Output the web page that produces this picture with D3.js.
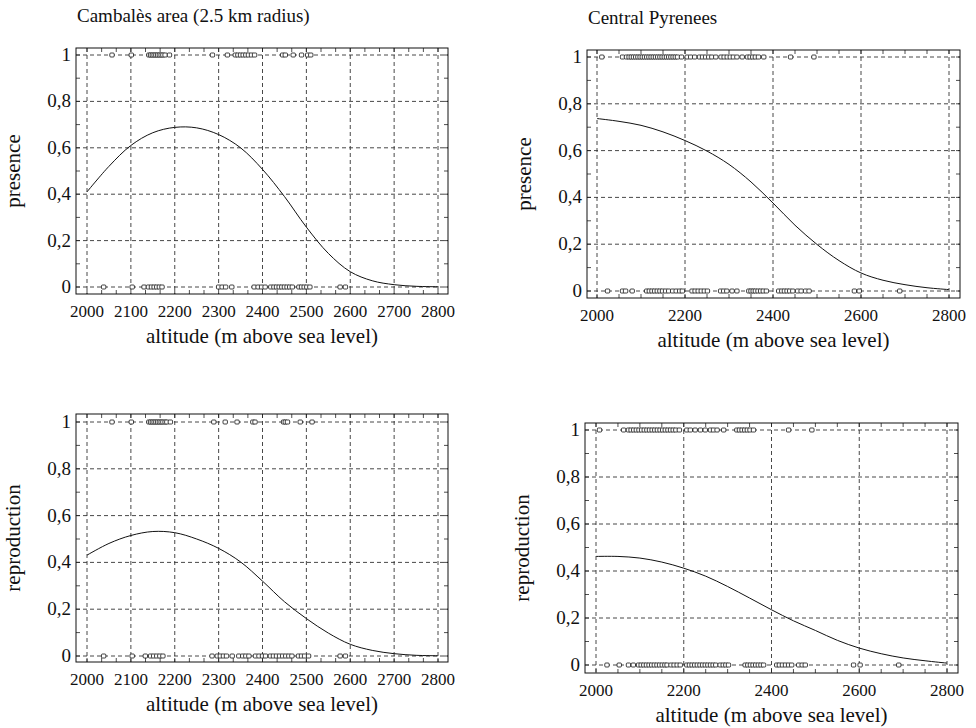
<!DOCTYPE html>
<html>
<head>
<meta charset="utf-8">
<script src="https://cdn.jsdelivr.net/npm/d3@7"></script>
<style>
	body { margin: 0; background: #fff; }
</style>
</head>
<body>
<div id="chart"></div>
<script>
/*	Data -----------------------------------------------------------------------*/
var curveAltitude = [2000, 2050, 2100, 2150, 2200, 2250, 2300, 2350, 2400, 2450, 2500, 2550, 2600, 2650, 2700, 2750, 2800];
var presenceCambales = [0.41, 0.52, 0.61, 0.665, 0.688, 0.686, 0.657, 0.600, 0.507, 0.390, 0.258, 0.145, 0.066, 0.027, 0.010, 0.003, 0.001];
var presencePyrenees = [0.737, 0.725, 0.708, 0.680, 0.643, 0.598, 0.541, 0.466, 0.376, 0.281, 0.199, 0.130, 0.077, 0.046, 0.027, 0.014, 0.006];
var reproCambales = [0.431, 0.481, 0.515, 0.532, 0.527, 0.500, 0.460, 0.402, 0.320, 0.232, 0.160, 0.098, 0.050, 0.024, 0.010, 0.003, 0.001];
var reproPyrenees = [0.462, 0.462, 0.455, 0.438, 0.412, 0.378, 0.334, 0.285, 0.235, 0.188, 0.147, 0.105, 0.072, 0.048, 0.030, 0.018, 0.008];

/*	Observed sites (altitude) where the value is 1 or 0 -----------------------*/
var presCambalesOne = [2057, 2101, 2141, 2145, 2149, 2153, 2157, 2161, 2165, 2169, 2173, 2178, 2188, 2286, 2320, 2338, 2344, 2350, 2356, 2362, 2368, 2375, 2382, 2446, 2452, 2470, 2489, 2503, 2510];
var presCambalesZero = [2038, 2103, 2130, 2140, 2147, 2153, 2159, 2165, 2171, 2300, 2308, 2316, 2330, 2381, 2390, 2398, 2406, 2419, 2426, 2432, 2438, 2444, 2450, 2456, 2462, 2468, 2483, 2489, 2495, 2501, 2508, 2577, 2589];
var presPyreneesOne = [2011, 2058, 2067, 2073, 2078, 2083, 2088, 2093, 2098, 2103, 2108, 2113, 2118, 2123, 2128, 2133, 2138, 2143, 2148, 2153, 2158, 2163, 2168, 2173, 2178, 2183, 2192, 2205, 2213, 2222, 2233, 2240, 2247, 2254, 2261, 2270, 2282, 2289, 2296, 2303, 2310, 2318, 2330, 2342, 2348, 2354, 2360, 2367, 2379, 2440, 2493];
var presPyreneesZero = [2024, 2058, 2065, 2080, 2113, 2119, 2125, 2131, 2137, 2143, 2149, 2156, 2163, 2172, 2180, 2188, 2194, 2216, 2223, 2230, 2237, 2244, 2251, 2281, 2288, 2295, 2307, 2318, 2345, 2350, 2355, 2360, 2366, 2372, 2378, 2385, 2413, 2420, 2426, 2432, 2438, 2445, 2456, 2464, 2474, 2482, 2585, 2596, 2688];
var reproCambalesOne = [2057, 2101, 2141, 2145, 2149, 2153, 2157, 2161, 2165, 2169, 2173, 2178, 2182, 2190, 2289, 2315, 2342, 2378, 2383, 2448, 2452, 2457, 2486, 2513];
var reproCambalesZero = [2038, 2103, 2133, 2145, 2152, 2159, 2166, 2173, 2285, 2297, 2304, 2311, 2318, 2331, 2346, 2355, 2362, 2369, 2384, 2392, 2400, 2407, 2418, 2425, 2432, 2439, 2446, 2453, 2460, 2467, 2482, 2489, 2496, 2505, 2577, 2589];
var reproPyreneesOne = [2008, 2063, 2074, 2080, 2086, 2092, 2098, 2104, 2110, 2116, 2122, 2128, 2134, 2140, 2146, 2152, 2158, 2164, 2170, 2176, 2182, 2190, 2207, 2215, 2226, 2238, 2249, 2261, 2268, 2276, 2291, 2321, 2327, 2333, 2339, 2345, 2351, 2359, 2439, 2492];
var reproPyreneesZero = [2025, 2053, 2074, 2085, 2097, 2103, 2109, 2115, 2121, 2127, 2133, 2139, 2145, 2151, 2157, 2162, 2171, 2178, 2185, 2192, 2207, 2213, 2219, 2225, 2231, 2237, 2243, 2249, 2255, 2261, 2267, 2273, 2283, 2290, 2296, 2302, 2340, 2346, 2352, 2358, 2364, 2370, 2376, 2382, 2412, 2418, 2425, 2432, 2439, 2446, 2462, 2470, 2477, 2587, 2602, 2690];

/*	Ticks and labels ----------------------------------------------------------*/
var yTicks = [0, 0.2, 0.4, 0.6, 0.8, 1];
var yTickLabels = ["0", "0,2", "0,4", "0,6", "0,8", "1"];
var xTicksCambales = [2000, 2100, 2200, 2300, 2400, 2500, 2600, 2700, 2800];
var xTicksPyrenees = [2000, 2200, 2400, 2600, 2800];
var panelTitles = ["Cambalès area (2.5 km radius)", "Central Pyrenees"];
var yTitles = ["presence", "reproduction"];
var xTitle = "altitude (m above sea level)";

/*	Panel layout (pixels) ----------------------------------------------------*/
var panels = [
	{ x0: 87,  x1: 438, yZero: 287, yOne: 55,  frame: [76, 48, 448, 294],  curve: presenceCambales, one: presCambalesOne, zero: presCambalesZero, xTicks: xTicksCambales, minor: 100 / 3, yTitle: yTitles[0], title: panelTitles[0], titleY: 22 },
	{ x0: 597, x1: 949, yZero: 291, yOne: 57,  frame: [587, 50, 960, 298], curve: presencePyrenees, one: presPyreneesOne, zero: presPyreneesZero, xTicks: xTicksPyrenees, minor: 50, yTitle: yTitles[0], title: panelTitles[1], titleY: 24 },
	{ x0: 87,  x1: 438, yZero: 656, yOne: 422, frame: [76, 414, 448, 662], curve: reproCambales, one: reproCambalesOne, zero: reproCambalesZero, xTicks: xTicksCambales, minor: 100 / 3, yTitle: yTitles[1] },
	{ x0: 596, x1: 947, yZero: 665, yOne: 430, frame: [585, 423, 958, 673], curve: reproPyrenees, one: reproPyreneesOne, zero: reproPyreneesZero, xTicks: xTicksPyrenees, minor: 50, yTitle: yTitles[1] }
];

var serif = "'Liberation Serif'";

var svg = d3.select("#chart").append("svg")
	.attr("width", 976)
	.attr("height", 728);

/*	Draw one panel ------------------------------------------------------------*/
var drawPanel = function(p) {
	var xScale = d3.scaleLinear().domain([2000, 2800]).range([p.x0, p.x1]);
	var yScale = d3.scaleLinear().domain([0, 1]).range([p.yZero, p.yOne]);
	var fx0 = p.frame[0], fy0 = p.frame[1], fx1 = p.frame[2], fy1 = p.frame[3];
	var g = svg.append("g");

	/*	Grid lines -------------------------------------------------------------*/
	g.selectAll(".vgrid").data(p.xTicks).enter().append("line")
		.attr("x1", function(d) { return xScale(d); })
		.attr("x2", function(d) { return xScale(d); })
		.attr("y1", fy0).attr("y2", fy1)
		.attr("stroke", "#333").attr("stroke-width", 0.9)
		.attr("stroke-dasharray", "4,3");
	g.selectAll(".hgrid").data(yTicks).enter().append("line")
		.attr("x1", fx0).attr("x2", fx1)
		.attr("y1", function(d) { return yScale(d); })
		.attr("y2", function(d) { return yScale(d); })
		.attr("stroke", "#333").attr("stroke-width", 0.9)
		.attr("stroke-dasharray", "4,3");

	/*	Minor ticks on the frame -------------------------------------------------*/
	var yMinor = d3.range(0, 1.0001, 0.1);
	var xMinor = d3.range(2000, 2800.5, p.minor);
	yMinor.forEach(function(v) {
		g.append("line").attr("x1", fx0).attr("x2", fx0 + 4)
			.attr("y1", yScale(v)).attr("y2", yScale(v))
			.attr("stroke", "#222").attr("stroke-width", 0.8);
		g.append("line").attr("x1", fx1).attr("x2", fx1 - 4)
			.attr("y1", yScale(v)).attr("y2", yScale(v))
			.attr("stroke", "#222").attr("stroke-width", 0.8);
	});
	xMinor.forEach(function(v) {
		g.append("line").attr("x1", xScale(v)).attr("x2", xScale(v))
			.attr("y1", fy1).attr("y2", fy1 - 4)
			.attr("stroke", "#222").attr("stroke-width", 0.8);
		g.append("line").attr("x1", xScale(v)).attr("x2", xScale(v))
			.attr("y1", fy0).attr("y2", fy0 + 4)
			.attr("stroke", "#222").attr("stroke-width", 0.8);
	});

	/*	Frame --------------------------------------------------------------------*/
	g.append("rect")
		.attr("x", fx0).attr("y", fy0)
		.attr("width", fx1 - fx0).attr("height", fy1 - fy0)
		.attr("fill", "none").attr("stroke", "#111").attr("stroke-width", 1);

	/*	Observed sites as open squares ------------------------------------------*/
	var addRug = function(values, level) {
		g.selectAll(null).data(values).enter().append("rect")
			.attr("x", function(d) { return xScale(d) - 2.2; })
			.attr("y", yScale(level) - 2)
			.attr("width", 4.4).attr("height", 4)
			.attr("rx", 1)
			.attr("fill", "white")
			.attr("stroke", "#111").attr("stroke-width", 0.8);
	};
	addRug(p.one, 1);
	addRug(p.zero, 0);

	/*	Fitted curve --------------------------------------------------------------*/
	var line = d3.line()
		.x(function(d, i) { return xScale(curveAltitude[i]); })
		.y(function(d) { return yScale(d); })
		.curve(d3.curveCatmullRom.alpha(0.5));
	g.append("path")
		.datum(p.curve)
		.attr("d", line)
		.attr("fill", "none").attr("stroke", "#111").attr("stroke-width", 1);

	/*	Tick labels ---------------------------------------------------------------*/
	g.selectAll(".ylab").data(yTicks).enter().append("text")
		.attr("x", fx0 - 5)
		.attr("y", function(d) { return yScale(d) + 6; })
		.attr("text-anchor", "end")
		.style("font-family", serif)
		.style("font-size", "19px")
		.style("fill", "#111")
		.text(function(d, i) { return yTickLabels[i]; });
	g.selectAll(".xlab").data(p.xTicks).enter().append("text")
		.attr("x", function(d) { return xScale(d); })
		.attr("y", fy1 + 23)
		.attr("text-anchor", "middle")
		.style("font-family", serif)
		.style("font-size", "17px")
		.style("fill", "#111")
		.text(function(d) { return d; });

	/*	Axis titles ---------------------------------------------------------------*/
	g.append("text")
		.attr("x", (fx0 + fx1) / 2)
		.attr("y", fy1 + 49)
		.attr("text-anchor", "middle")
		.style("font-family", serif)
		.style("font-size", "21px")
		.style("fill", "#111")
		.text(xTitle);
	g.append("text")
		.attr("text-anchor", "middle")
		.attr("transform", "translate(" + (fx0 - 56) + "," + ((fy0 + fy1) / 2) + ")rotate(-90)")
		.style("font-family", serif)
		.style("font-size", "21px")
		.style("fill", "#111")
		.text(p.yTitle);

	if (p.title) {
		g.append("text")
			.attr("x", fx0 + 1)
			.attr("y", p.titleY)
			.style("font-family", serif)
			.style("font-size", "19px")
			.style("fill", "#111")
			.text(p.title);
	}
};

panels.forEach(drawPanel);
</script>
</body>
</html>
